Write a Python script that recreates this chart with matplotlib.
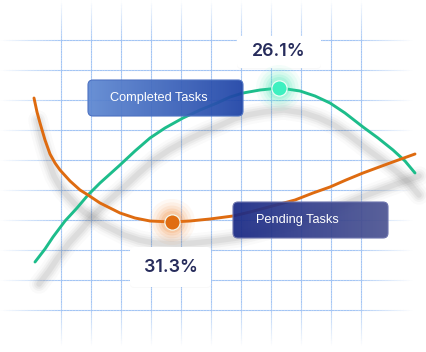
import numpy as np
import matplotlib
matplotlib.use("Agg")
import matplotlib.pyplot as plt
from matplotlib.patches import FancyBboxPatch
from matplotlib.colors import LinearSegmentedColormap, to_rgba
from matplotlib.collections import LineCollection
from matplotlib.transforms import offset_copy

# ---------------- data (pixel-like units, y downwards) -------------
completed_x = [35, 45, 53, 65, 77, 88, 100, 110, 120, 135, 150, 165, 183, 200, 217, 230,
               243, 260, 280, 300, 315, 330, 345, 363, 378, 393, 405, 415]
completed_y = [262, 249, 237, 221, 208, 195, 183, 174, 165, 151, 138, 128, 118, 110, 103, 97,
               93, 90, 88, 91, 96, 103, 113, 127, 138, 150, 161, 173]
pending_x = [34, 37, 40, 45, 50, 55, 60, 70, 80, 88, 100, 110, 120, 135, 150, 172, 190, 210,
             233, 250, 265, 280, 295, 313, 330, 346, 363, 390, 415]
pending_y = [98, 112, 123, 140, 154, 163, 170, 181, 190, 195, 203, 208, 213, 218, 221, 222,
             221, 219, 216, 212, 208, 204, 200, 193, 187, 180, 173, 163, 154]

series_names = ["Completed Tasks", "Pending Tasks"]
highlight_x = [279, 172]
highlight_y = [88, 222]
highlight_labels = ["26.1%", "31.3%"]

grid_x = [61, 91, 121, 151, 181, 211, 241, 271, 301, 331, 361]
grid_y = [40, 70, 100, 130, 160, 190, 220, 250, 280, 310]

# ---------------- figure ----------------
W, H = 426, 352
fig = plt.figure(figsize=(W / 100, H / 100), dpi=100)
ax = fig.add_axes([0, 0, 1, 1])
ax.set_xlim(0, W)
ax.set_ylim(H, 0)
ax.axis("off")
fig.patch.set_facecolor("white")

FONT = ["Inter", "DejaVu Sans"]
LABEL_FONT = ["Liberation Sans", "DejaVu Sans"]
grid_color = "#9ec2f4"

# faded grid lines
def ramp(t, a0, a1, b0, b1):
    t = np.asarray(t, float)
    up = np.clip((t - a0) / (a1 - a0), 0, 1)
    down = np.clip((b1 - t) / (b1 - b0), 0, 1)
    return np.minimum(up, down)

segs, cols = [], []
xs = np.linspace(0, 415, 140)
for gy in grid_y:
    al = ramp((xs[:-1] + xs[1:]) / 2, 0, 62, 352, 412)
    for i in range(len(xs) - 1):
        segs.append([(xs[i], gy), (xs[i + 1], gy)])
        cols.append(to_rgba(grid_color, al[i] * 0.95))
ys = np.linspace(0, 348, 140)
for gx in grid_x:
    al = ramp((ys[:-1] + ys[1:]) / 2, 0, 42, 300, 346)
    for i in range(len(ys) - 1):
        segs.append([(gx, ys[i]), (gx, ys[i + 1])])
        cols.append(to_rgba(grid_color, al[i] * 0.95))
ax.add_collection(LineCollection(segs, colors=cols, linewidths=0.8, zorder=1))

# blurred shadows
for sx, sy in [(completed_x, completed_y), (pending_x, pending_y)]:
    tr = offset_copy(ax.transData, fig=fig, x=4, y=-22, units="dots")
    for lw, a in [(14, 0.03), (10, 0.05), (7, 0.07), (4, 0.09)]:
        ax.plot(sx, sy, color="#6b6b6b", lw=lw, alpha=a, transform=tr,
                solid_capstyle="round", zorder=2)

# curves
green = "#1dbd8b"
orange = "#de6b10"
ax.plot(completed_x, completed_y, color=green, lw=2.1, solid_capstyle="round",
        solid_joinstyle="round", zorder=4)
ax.plot(pending_x, pending_y, color=orange, lw=2.1, solid_capstyle="round",
        solid_joinstyle="round", zorder=4)

# gradient label boxes
def grad_box(x0, y0, x1, y1, c0, c1, alpha, z, edge):
    patch = FancyBboxPatch((x0, y0), x1 - x0, y1 - y0,
                           boxstyle="round,pad=0,rounding_size=5",
                           facecolor="none", edgecolor=edge, lw=0.8, zorder=z + 0.1)
    ax.add_patch(patch)
    grad = np.linspace(0, 1, 256)[None, :]
    cmap = LinearSegmentedColormap.from_list("g", [c0, c1])
    im = ax.imshow(grad, cmap=cmap, extent=[x0, x1, y1, y0], aspect="auto",
                   zorder=z, alpha=alpha, interpolation="bilinear")
    im.set_clip_path(patch)

grad_box(88, 80, 243, 116, "#5e88d2", "#1e43a6", 0.93, 5, "#4d72c2")
grad_box(233, 202, 388, 238, "#1a2a86", "#4d5592", 0.93, 5, "#6d74ad")
ax.text(159, 98.5, series_names[0], color="white", fontsize=9.2, ha="center",
        va="center", family=LABEL_FONT, zorder=6)
ax.text(297.5, 220, series_names[1], color="white", fontsize=9.2, ha="center",
        va="center", family=LABEL_FONT, zorder=6)

ax.set_xlim(0, W)
ax.set_ylim(H, 0)

# value label boxes (white)
for (bx0, by0, bx1, by1), lab, (tx, ty) in zip(
        [(237, 36, 321, 68), (130, 247, 211, 287)], highlight_labels,
        [(279, 51), (170.5, 268)]):
    sh = FancyBboxPatch((bx0, by0 + 1), bx1 - bx0, by1 - by0,
                        boxstyle="round,pad=0,rounding_size=4", facecolor="#000000",
                        alpha=0.025, edgecolor="none", zorder=6)
    ax.add_patch(sh)
    ax.add_patch(FancyBboxPatch((bx0, by0), bx1 - bx0, by1 - by0,
                                boxstyle="round,pad=0,rounding_size=4",
                                facecolor="white", edgecolor="none", zorder=6.5))
    ax.text(tx, ty, lab, color="#272c5c", fontsize=12.8, fontweight="semibold",
            ha="center", va="center", family=FONT, zorder=7)

# highlighted points with glow
for px, py, c, fc in [(highlight_x[0], highlight_y[0], "#34e6b0", "#3ef0c0"),
                      (highlight_x[1], highlight_y[1], "#f07a20", "#e06d12")]:
    for s, a in [(1100, 0.05), (800, 0.07), (560, 0.09), (380, 0.12), (250, 0.15)]:
        ax.scatter([px], [py], s=s, color=c, alpha=a, edgecolors="none", zorder=7)
    ax.scatter([px], [py], s=120, color=fc, edgecolors="#f4fff8", linewidths=0.8, zorder=8)

fig.savefig("out.png", dpi=100, facecolor="white")
